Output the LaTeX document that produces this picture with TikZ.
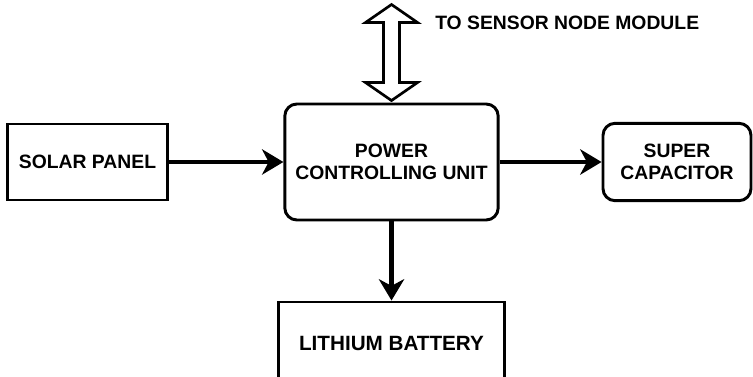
\documentclass[tikz,border=0pt]{standalone}
\usepackage{fontspec}
\setmainfont{Liberation Sans}
\usetikzlibrary{arrows.meta}

\begin{document}
\begin{tikzpicture}[x=0.75pt,y=-0.75pt,>={Stealth[length=16pt,width=19pt,inset=5pt]},
  blok/.style={draw,line width=2.2pt,align=center,inner sep=0pt,font=\bfseries\fontsize{14.5}{17}\selectfont},
  rblok/.style={blok,rounded corners=9pt},
  flow/.style={->,line width=3.3pt}]
  \useasboundingbox (0,0) rectangle (753,377);
  \node[blok,minimum width=120pt,minimum height=57pt] (solar) at (87.5,162) {SOLAR PANEL};
  \node[rblok,minimum width=160pt,minimum height=87pt] (pcu) at (391.5,162) {POWER\\CONTROLLING UNIT};
  \node[rblok,minimum width=111pt,minimum height=58pt] (cap) at (677,162) {SUPER\\CAPACITOR};
  \node[blok,minimum width=170pt,minimum height=61.5pt,font=\bfseries\fontsize{15.5}{17}\selectfont] (batt) at (391.5,343) {LITHIUM BATTERY};
  \node[anchor=west,inner sep=0pt,font=\bfseries\fontsize{14.5}{17}\selectfont] (sensor) at (435,23) {TO SENSOR NODE MODULE};
  \draw[flow] (solar) -- (pcu);
  \draw[flow] (pcu) -- (cap);
  \draw[flow] (pcu) -- (batt);
  % hollow two-way arrow to the sensor node
  \draw[line width=2pt,fill=white,line join=miter] (pcu.north) ++(0,-2) -- ++(-26,-18) -- ++(18,0) -- ++(0,-60)
    -- ++(-18,0) -- ++(26,-18) -- ++(26,18) -- ++(-18,0) -- ++(0,60) -- ++(18,0) -- cycle;
\end{tikzpicture}
\end{document}
